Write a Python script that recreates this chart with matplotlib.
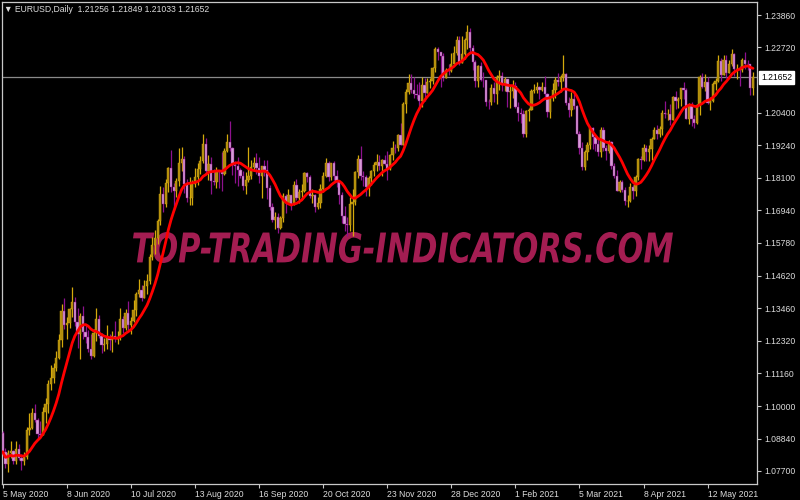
import numpy as np
import matplotlib.pyplot as plt
from matplotlib.transforms import blended_transform_factory, Affine2D, IdentityTransform
from matplotlib.textpath import TextPath
from matplotlib.patches import PathPatch
from matplotlib.font_manager import FontProperties

# ===== data: EURUSD daily, 5 May 2020 .. 4 Jun 2021 =====
first_open = 1.0906

close = [
    # May 2020
    1.0838, 1.0795, 1.0832, 1.0840, 1.0807, 1.0849, 1.0817, 1.0805, 1.0819, 1.0915,
    1.0924, 1.0974, 1.0950, 1.0901, 1.0898, 1.0979, 1.1007, 1.1077, 1.1101,
    # Jun 2020
    1.1136, 1.1171, 1.1234, 1.1337, 1.1289, 1.1295, 1.1343, 1.1370, 1.1297, 1.1256,
    1.1320, 1.1262, 1.1244, 1.1204, 1.1178, 1.1258, 1.1308, 1.1250, 1.1218, 1.1219,
    1.1242, 1.1233,
    # Jul 2020
    1.1250, 1.1239, 1.1245, 1.1309, 1.1275, 1.1330, 1.1287, 1.1300, 1.1342, 1.1398,
    1.1412, 1.1383, 1.1427, 1.1444, 1.1527, 1.1570, 1.1596, 1.1655, 1.1752, 1.1716,
    1.1791, 1.1845, 1.1778,
    # Aug 2020
    1.1762, 1.1799, 1.1862, 1.1876, 1.1788, 1.1736, 1.1739, 1.1786, 1.1813, 1.1842,
    1.1870, 1.1930, 1.1833, 1.1857, 1.1796, 1.1794, 1.1832, 1.1829, 1.1823, 1.1903,
    1.1937,
    # Sep 2020
    1.1913, 1.1853, 1.1850, 1.1838, 1.1815, 1.1781, 1.1801, 1.1816, 1.1846, 1.1862,
    1.1845, 1.1815, 1.1852, 1.1838, 1.1772, 1.1705, 1.1658, 1.1671, 1.1632, 1.1666,
    1.1745, 1.1721,
    # Oct 2020
    1.1747, 1.1715, 1.1782, 1.1736, 1.1760, 1.1761, 1.1827, 1.1813, 1.1745, 1.1747,
    1.1705, 1.1719, 1.1768, 1.1817, 1.1861, 1.1812, 1.1860, 1.1814, 1.1795, 1.1747,
    1.1674, 1.1646,
    # Nov 2020
    1.1642, 1.1717, 1.1723, 1.1830, 1.1876, 1.1814, 1.1812, 1.1776, 1.1807, 1.1834,
    1.1853, 1.1866, 1.1851, 1.1873, 1.1857, 1.1841, 1.1889, 1.1915, 1.1914, 1.1962,
    1.1926,
    # Dec 2020
    1.2071, 1.2113, 1.2146, 1.2122, 1.2107, 1.2101, 1.2081, 1.2137, 1.2111, 1.2147,
    1.2153, 1.2197, 1.2265, 1.2254, 1.2240, 1.2163, 1.2190, 1.2187, 1.2214, 1.2250,
    1.2298, 1.2216,
    # Jan 2021
    1.2248, 1.2296, 1.2326, 1.2270, 1.2220, 1.2151, 1.2207, 1.2157, 1.2156, 1.2078,
    1.2077, 1.2128, 1.2107, 1.2165, 1.2170, 1.2142, 1.2159, 1.2112, 1.2117, 1.2136,
    # Feb 2021
    1.2059, 1.2037, 1.2035, 1.1963, 1.2046, 1.2050, 1.2118, 1.2120, 1.2131, 1.2120,
    1.2130, 1.2106, 1.2041, 1.2091, 1.2119, 1.2156, 1.2150, 1.2167, 1.2177, 1.2074,
    # Mar 2021
    1.2048, 1.2090, 1.2063, 1.1966, 1.1915, 1.1848, 1.1900, 1.1926, 1.1986, 1.1952,
    1.1930, 1.1902, 1.1977, 1.1914, 1.1904, 1.1937, 1.1850, 1.1815, 1.1763, 1.1795,
    1.1766, 1.1727, 1.1728,
    # Apr 2021
    1.1776, 1.1762, 1.1813, 1.1875, 1.1872, 1.1914, 1.1900, 1.1912, 1.1948, 1.1980,
    1.1966, 1.1983, 1.2037, 1.2034, 1.2034, 1.2013, 1.2097, 1.2083, 1.2089, 1.2127,
    1.2122, 1.2019,
    # May 2021
    1.2062, 1.2016, 1.2004, 1.2067, 1.2165, 1.2131, 1.2149, 1.2075, 1.2081, 1.2143,
    1.2153, 1.2224, 1.2174, 1.2226, 1.2180, 1.2214, 1.2248, 1.2193, 1.2193, 1.2191,
    1.2228,
    # Jun 2021
    1.2214, 1.2212, 1.21256, 1.21652,
]

high = [
    1.0911, 1.0852, 1.0845, 1.0877, 1.0845, 1.0875, 1.0865, 1.0829, 1.0837, 1.0927,
    1.0976, 1.0995, 1.1009, 1.0957, 1.0946, 1.0996, 1.1030, 1.1092, 1.1145,
    1.1154, 1.1197, 1.1257, 1.1362, 1.1384, 1.1316, 1.1349, 1.1422, 1.1387, 1.1348,
    1.1331, 1.1353, 1.1288, 1.1269, 1.1257, 1.1272, 1.1349, 1.1323, 1.1260, 1.1242,
    1.1286, 1.1255,
    1.1266, 1.1303, 1.1265, 1.1346, 1.1319, 1.1345, 1.1371, 1.1317, 1.1375, 1.1403,
    1.1452, 1.1430, 1.1446, 1.1469, 1.1540, 1.1601, 1.1624, 1.1664, 1.1781, 1.1776,
    1.1805, 1.1846, 1.1908,
    1.1790, 1.1807, 1.1916, 1.1917, 1.1887, 1.1806, 1.1811, 1.1800, 1.1843, 1.1861,
    1.1887, 1.1966, 1.1951, 1.1889, 1.1884, 1.1840, 1.1849, 1.1838, 1.1902, 1.1915,
    1.1966,
    1.2011, 1.1919, 1.1867, 1.1883, 1.1845, 1.1834, 1.1829, 1.1917, 1.1871, 1.1882,
    1.1898, 1.1882, 1.1851, 1.1872, 1.1871, 1.1785, 1.1720, 1.1687, 1.1684, 1.1673,
    1.1754, 1.1753,
    1.1770, 1.1748, 1.1797, 1.1806, 1.1771, 1.1786, 1.1831, 1.1829, 1.1819, 1.1771,
    1.1752, 1.1740, 1.1787, 1.1829, 1.1880, 1.1867, 1.1860, 1.1869, 1.1838, 1.1796,
    1.1760, 1.1708,
    1.1670, 1.1741, 1.1770, 1.1832, 1.1891, 1.1920, 1.1832, 1.1819, 1.1814, 1.1838,
    1.1866, 1.1894, 1.1891, 1.1876, 1.1889, 1.1905, 1.1894, 1.1940, 1.1929, 1.1964,
    1.2004,
    1.2077, 1.2124, 1.2176, 1.2177, 1.2167, 1.2143, 1.2147, 1.2167, 1.2162, 1.2163,
    1.2161, 1.2200, 1.2273, 1.2272, 1.2251, 1.2250, 1.2197, 1.2212, 1.2250, 1.2276,
    1.2310, 1.2310,
    1.2310, 1.2303, 1.2349, 1.2339, 1.2278, 1.2226, 1.2210, 1.2219, 1.2184, 1.2157,
    1.2089, 1.2143, 1.2150, 1.2173, 1.2190, 1.2184, 1.2168, 1.2160, 1.2137, 1.2155,
    1.2150, 1.2079, 1.2058, 1.2049, 1.2051, 1.2058, 1.2123, 1.2143, 1.2150, 1.2135,
    1.2149, 1.2169, 1.2109, 1.2094, 1.2146, 1.2168, 1.2180, 1.2175, 1.2243, 1.2182,
    1.2094, 1.2113, 1.2114, 1.2068, 1.1976, 1.1936, 1.1906, 1.1935, 1.1990, 1.1990,
    1.1951, 1.1950, 1.1990, 1.1990, 1.1926, 1.1944, 1.1940, 1.1860, 1.1835, 1.1800,
    1.1801, 1.1777, 1.1749,
    1.1791, 1.1782, 1.1820, 1.1878, 1.1887, 1.1929, 1.1926, 1.1924, 1.1954, 1.1990,
    1.1995, 1.1994, 1.2048, 1.2080, 1.2053, 1.2070, 1.2099, 1.2117, 1.2095, 1.2128,
    1.2150, 1.2129,
    1.2075, 1.2077, 1.2031, 1.2072, 1.2173, 1.2181, 1.2177, 1.2166, 1.2097, 1.2149,
    1.2163, 1.2245, 1.2233, 1.2243, 1.2246, 1.2226, 1.2266, 1.2253, 1.2211, 1.2207,
    1.2233,
    1.2254, 1.2227, 1.2214, 1.21849,
]

low = [
    1.0826, 1.0782, 1.0767, 1.0815, 1.0794, 1.0796, 1.0808, 1.0775, 1.0791, 1.0812,
    1.0897, 1.0918, 1.0945, 1.0883, 1.0886, 1.0896, 1.0939, 1.0975, 1.1058,
    1.1082, 1.1124, 1.1166, 1.1210, 1.1273, 1.1239, 1.1275, 1.1314, 1.1285, 1.1207,
    1.1168, 1.1237, 1.1223, 1.1190, 1.1168, 1.1175, 1.1232, 1.1243, 1.1188, 1.1197,
    1.1204, 1.1199,
    1.1190, 1.1228, 1.1221, 1.1236, 1.1260, 1.1269, 1.1271, 1.1254, 1.1297, 1.1318,
    1.1386, 1.1371, 1.1383, 1.1397, 1.1432, 1.1519, 1.1538, 1.1573, 1.1643, 1.1688,
    1.1706, 1.1760, 1.1760,
    1.1696, 1.1742, 1.1781, 1.1833, 1.1755, 1.1723, 1.1711, 1.1711, 1.1777, 1.1783,
    1.1822, 1.1861, 1.1822, 1.1801, 1.1753, 1.1784, 1.1774, 1.1772, 1.1762, 1.1820,
    1.1902,
    1.1905, 1.1820, 1.1789, 1.1781, 1.1808, 1.1765, 1.1753, 1.1794, 1.1805, 1.1834,
    1.1824, 1.1790, 1.1737, 1.1817, 1.1734, 1.1694, 1.1652, 1.1627, 1.1612, 1.1626,
    1.1654, 1.1685,
    1.1716, 1.1696, 1.1711, 1.1730, 1.1718, 1.1734, 1.1760, 1.1794, 1.1736, 1.1721,
    1.1689, 1.1698, 1.1703, 1.1760, 1.1812, 1.1799, 1.1802, 1.1800, 1.1778, 1.1716,
    1.1650, 1.1622,
    1.1603, 1.1622, 1.1602, 1.1713, 1.1808, 1.1802, 1.1780, 1.1745, 1.1746, 1.1784,
    1.1816, 1.1833, 1.1836, 1.1816, 1.1853, 1.1800, 1.1836, 1.1871, 1.1898, 1.1903,
    1.1924,
    1.1925, 1.2040, 1.2107, 1.2111, 1.2091, 1.2088, 1.2058, 1.2059, 1.2081, 1.2125,
    1.2127, 1.2140, 1.2185, 1.2227, 1.2130, 1.2152, 1.2161, 1.2172, 1.2183, 1.2211,
    1.2245, 1.2210,
    1.2219, 1.2231, 1.2264, 1.2253, 1.2191, 1.2132, 1.2131, 1.2151, 1.2131, 1.2062,
    1.2053, 1.2068, 1.2079, 1.2072, 1.2121, 1.2115, 1.2115, 1.2061, 1.2058, 1.2092,
    1.2056, 1.2011, 1.2004, 1.1952, 1.1954, 1.2012, 1.2048, 1.2108, 1.2109, 1.2089,
    1.2117, 1.2089, 1.2023, 1.2022, 1.2081, 1.2091, 1.2134, 1.2114, 1.2153, 1.2067,
    1.2024, 1.2027, 1.2052, 1.1963, 1.1893, 1.1836, 1.1837, 1.1873, 1.1912, 1.1910,
    1.1903, 1.1888, 1.1883, 1.1903, 1.1873, 1.1896, 1.1841, 1.1809, 1.1761, 1.1759,
    1.1757, 1.1712, 1.1704,
    1.1723, 1.1735, 1.1744, 1.1802, 1.1842, 1.1868, 1.1867, 1.1868, 1.1873, 1.1947,
    1.1945, 1.1952, 1.1962, 1.2021, 1.2014, 1.1995, 1.2015, 1.2053, 1.2056, 1.2062,
    1.2090, 1.2016,
    1.2001, 1.1994, 1.1986, 1.1999, 1.2033, 1.2128, 1.2116, 1.2070, 1.2051, 1.2077,
    1.2120, 1.2150, 1.2152, 1.2173, 1.2162, 1.2186, 1.2205, 1.2170, 1.2160, 1.2133,
    1.2185,
    1.2194, 1.2190, 1.2103, 1.21033,
]

date_labels = ['5 May 2020', '8 Jun 2020', '10 Jul 2020', '13 Aug 2020', '16 Sep 2020',
               '20 Oct 2020', '23 Nov 2020', '28 Dec 2020', '1 Feb 2021', '5 Mar 2021',
               '8 Apr 2021', '12 May 2021']
date_label_bars = [0, 24, 48, 72, 96, 120, 144, 168, 192, 216, 240, 264]

price_ticks = [1.23860, 1.22720, 1.20400, 1.19240, 1.18100, 1.16940, 1.15780,
               1.14620, 1.13460, 1.12320, 1.11160, 1.10000, 1.08840, 1.07700]
last_price = 1.21652
header = '\u25bc EURUSD,Daily  1.21256 1.21849 1.21033 1.21652'
watermark = 'TOP-TRADING-INDICATORS.COM'

# ===== prep =====
close = np.array(close)
open_ = np.concatenate([[first_open], close[:-1]])
high = np.maximum.reduce([np.array(high), open_, close])
low = np.minimum.reduce([np.array(low), open_, close])
n = len(close)
x = np.arange(n)


def alma(v, window=25, offset=0.85, sigma=6.0):
    m = offset * (window - 1)
    s = window / sigma
    w = np.exp(-((np.arange(window) - m) ** 2) / (2 * s * s))
    out = np.empty(len(v))
    for i in range(len(v)):
        seg = v[max(0, i - window + 1):i + 1]
        ww = w[-len(seg):]
        out[i] = (seg * ww).sum() / ww.sum()
    return out


smooth = alma(close)

# ===== colours =====
fg = '#c8c8c8'
txt = '#dcdcdc'
bull_body, bull_wick = '#b08d0e', '#d4a90c'
bear_body, bear_wick = '#d79bd6', '#8e118e'

plt.rcParams['font.family'] = ['Liberation Sans', 'DejaVu Sans']

fig = plt.figure(figsize=(8, 5), dpi=100, facecolor='black')
ax = fig.add_axes([2 / 800, 16 / 500, 755 / 800, 482 / 500], facecolor='black')

# watermark (squeezed text path, pixel placed)
wm_path = TextPath((0, 0), watermark, size=20,
                   prop=FontProperties(family='DejaVu Sans', weight='bold', style='italic'))
bb = wm_path.get_extents()
wm_tr = (Affine2D().translate(-bb.x0, -bb.y0)
         .scale(540 / bb.width, 31 / bb.height)
         .translate(133, 500 - 263))
ax.add_patch(PathPatch(wm_tr.transform_path(wm_path), transform=IdentityTransform(),
                       facecolor='#a41d52', edgecolor='none', zorder=1))

# bid line
ax.axhline(last_price, color='#8a8a8a', lw=0.9, zorder=2)

# candles
up = close >= open_
dn = ~up
body_lo = np.minimum(open_, close)
body_h = np.maximum(np.abs(close - open_), 0.00006)
ax.vlines(x[up], low[up], high[up], color=bull_wick, lw=0.9, zorder=3)
ax.vlines(x[dn], low[dn], high[dn], color=bear_wick, lw=0.9, zorder=3)
ax.bar(x[up], body_h[up], bottom=body_lo[up], width=0.85, color=bull_body,
       edgecolor=bull_wick, linewidth=0.3, zorder=4)
ax.bar(x[dn], body_h[dn], bottom=body_lo[dn], width=0.85, color=bear_body,
       edgecolor=bear_wick, linewidth=0.3, zorder=4)

# smoothed line
ax.plot(x, smooth, color='#ff0000', lw=2.0, zorder=5, solid_capstyle='round')

# axes
ax.set_xlim(-0.3, 282.5)
ax.set_ylim(1.07239, 1.24321)
for sp in ax.spines.values():
    sp.set_color(fg)
    sp.set_linewidth(0.9)

ax.yaxis.tick_right()
ax.set_yticks(price_ticks)
ax.set_yticklabels([f'{p:.5f}' for p in price_ticks])
ax.set_xticks(date_label_bars)
ax.set_xticklabels(date_labels)
ax.tick_params(axis='both', colors=fg, labelcolor=txt, length=3, width=0.8,
               labelsize=6.2, direction='out')
ax.tick_params(axis='x', pad=1.5)
ax.tick_params(axis='y', pad=2)
for lab in ax.get_xticklabels():
    lab.set_ha('left')

# last price box
tr = blended_transform_factory(ax.transAxes, ax.transData)
ax.text(1.0 + 4 / 755, last_price, f'{last_price:.5f}', transform=tr, ha='left',
        va='center', fontsize=6.2, color='black', zorder=6, clip_on=False,
        bbox=dict(boxstyle='square,pad=0.2', facecolor='white', edgecolor='white'))

# header
fig.text(4 / 800, 1 - 9 / 500, header, ha='left', va='center', fontsize=6.2,
         color=txt)

fig.savefig('out.png', dpi=100, facecolor='black')
